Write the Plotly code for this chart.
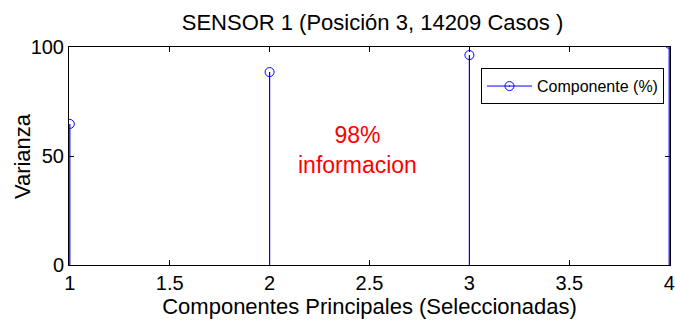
import plotly.graph_objects as go

# Datos
componentes = [1, 2, 3, 4]
varianza = [64.7, 88.5, 96.3, 101.5]
x_ticks = [1, 1.5, 2, 2.5, 3, 3.5, 4]
y_ticks = [0, 50, 100]

FONT = "Arial, Liberation Sans, sans-serif"
AZUL = "#0000ff"

# Tallos (stem) construidos a partir de los datos
tallo_x, tallo_y = [], []
for c, v in zip(componentes, varianza):
    tallo_x += [c, c, None]
    tallo_y += [0, v, None]

fig = go.Figure()
fig.add_trace(go.Scatter(x=tallo_x, y=tallo_y, mode="lines",
                         line=dict(color=AZUL, width=1.2), showlegend=False,
                         hoverinfo="skip"))
fig.add_trace(go.Scatter(x=componentes, y=varianza, mode="markers",
                         showlegend=False, hoverinfo="skip",
                         marker=dict(symbol="circle-open", size=9, color=AZUL,
                                     line=dict(width=1, color=AZUL))))

# Leyenda: linea + marcador como en MATLAB
fig.add_trace(go.Scatter(x=[None], y=[None], mode="lines+markers",
                         name="Componente (%)",
                         line=dict(color=AZUL, width=1),
                         marker=dict(symbol="circle-open-dot", size=9, color=AZUL,
                                     line=dict(width=1, color=AZUL))))

fig.add_annotation(x=2.44, y=52.8, xref="x", yref="y",
                   text="98%<br>informacion", showarrow=False,
                   font=dict(family=FONT, size=23, color="red"))

# titulo del eje Y como anotacion (posicion fija)
fig.add_annotation(x=-0.078, y=0.5, xref="paper", yref="paper",
                   text="Varianza", textangle=-90, showarrow=False,
                   xanchor="center", yanchor="middle",
                   font=dict(family=FONT, size=22, color="black"))

fig.update_layout(
    width=675, height=320,
    margin=dict(l=69, r=5, t=47, b=55),
    paper_bgcolor="white", plot_bgcolor="white",
    font=dict(family=FONT, color="black"),
    hovermode=False,
    title=dict(text="SENSOR 1 (Posición 3, 14209 Casos )",
               xref="paper", x=0.505, xanchor="center",
               y=0.931, yanchor="middle",
               font=dict(family=FONT, size=22, color="black")),
    legend=dict(x=0.99, y=0.903, xanchor="right", yanchor="top",
                bordercolor="black", borderwidth=1, bgcolor="white",
                itemwidth=45,
                font=dict(family=FONT, size=16, color="black")),
)
fig.update_xaxes(range=[0.996, 4.004], tickvals=x_ticks,
                 ticktext=[f"{t:g}" for t in x_ticks],
                 ticks="inside", ticklen=5, tickcolor="black",
                 showline=True, linecolor="black", linewidth=1, mirror="ticks",
                 showgrid=False, zeroline=False, layer="below traces",
                 automargin=False, ticklabeloverflow="allow",
                 tickfont=dict(family=FONT, size=20, color="black"),
                 title=dict(text="Componentes Principales (Seleccionadas)",
                            font=dict(family=FONT, size=22, color="black"),
                            standoff=0))
fig.update_yaxes(range=[0, 100], tickvals=y_ticks,
                 ticks="inside", ticklen=5, tickcolor="black",
                 showline=True, linecolor="black", linewidth=1, mirror="ticks",
                 showgrid=False, zeroline=False, layer="below traces",
                 automargin=False,
                 tickfont=dict(family=FONT, size=20, color="black"))

fig.write_html("out.html", config={"displayModeBar": False},
               post_script="document.body.style.margin='0';")
